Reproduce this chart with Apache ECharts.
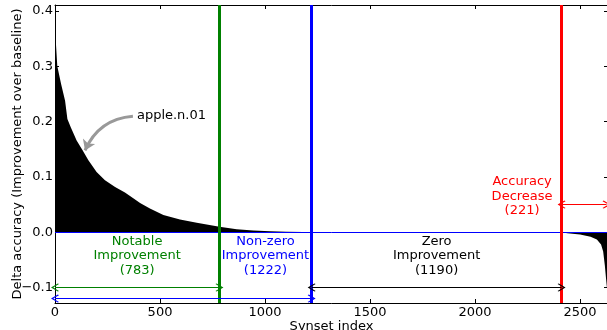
<!DOCTYPE html>
<html>
<head>
<meta charset="utf-8">
<script src="https://cdn.jsdelivr.net/npm/echarts@6/dist/echarts.min.js"></script>
<style>html,body{margin:0;padding:0;background:#fff}#graph{width:607px;height:330px}</style>
</head>
<body>
<div id="graph"></div>
<script>
"use strict"

// outline of the sorted per-synset delta accuracy
const synsetIdx = [0, 3, 11, 29, 48, 59, 75, 103, 132, 159, 198, 238, 286, 333, 371, 405, 452, 516, 595, 675, 783, 865, 944, 1024, 1100, 1181, 1222,
    1223, 2412, 2440, 2500, 2550, 2580, 2600, 2610, 2618, 2624, 2629, 2633];
const deltaAcc = [0.38, 0.35, 0.30, 0.268, 0.238, 0.205, 0.19, 0.166, 0.148, 0.13, 0.109, 0.094, 0.082, 0.072, 0.062, 0.053, 0.043, 0.031, 0.023, 0.017, 0.010, 0.0055, 0.003, 0.0018, 0.001, 0.0005, 0.0003,
    0, 0, -0.002, -0.004, -0.008, -0.013, -0.022, -0.035, -0.06, -0.085, -0.105, -0.12];

const xTicks = [0, 500, 1000, 1500, 2000, 2500];
const yTicks = [-0.1, 0, 0.1, 0.2, 0.3, 0.4];

// group boundaries (vertical lines)
const bounds = [783, 1222, 2412];
const boundColors = ["#008000", "#0000ff", "#ff0000"];

// group captions
const groupNames = ["Notable\nImprovement\n(783)", "Non-zero\nImprovement\n(1222)", "Zero\nImprovement\n(1190)", "Accuracy\nDecrease\n(221)"];
const groupX = [391, 1002, 1817, 2224];
const groupY = [-0.043, -0.043, -0.043, 0.065];
const groupColors = ["#008000", "#0000ff", "#000000", "#ff0000"];

// double headed arrows
const arrowFrom = [0, 0, 1222, 2412];
const arrowTo = [783, 1222, 2412, 2626];
const arrowY = [-0.1, -0.12, -0.1, 0.05];
const arrowColors = ["#008000", "#0000ff", "#000000", "#ff0000"];

// apple.n.01 annotation
const noteText = "apple.n.01";
const notePos = [390, 0.2116];
const noteArrow = [[371, 0.2098], [143, 0.148]];

const font = "DejaVu Sans";
const chevron = "path://M0,0L10,9L8.5,10.5L0,3L-8.5,10.5L-10,9Z";

const frameX = (pos, labels) => ({
    type: "value", position: pos, min: 0, max: 2633,
    axisLine: { show: true, onZero: false, lineStyle: { color: "#000", width: 1 } },
    axisTick: { show: true, inside: true, length: 4, customValues: xTicks, lineStyle: { color: "#000" } },
    axisLabel: { show: labels, customValues: xTicks, margin: 3, color: "#000", fontFamily: font, fontSize: 13, formatter: v => String(v) },
    splitLine: { show: false }
});
const frameY = (pos, labels) => ({
    type: "value", position: pos, min: -0.128, max: 0.411,
    axisLine: { show: true, onZero: false, lineStyle: { color: "#000", width: 1 } },
    axisTick: { show: true, inside: true, length: 4, customValues: yTicks, lineStyle: { color: "#000" } },
    axisLabel: {
        show: labels, customValues: yTicks, margin: 2, color: "#000", fontFamily: font, fontSize: 13,
        formatter: v => (v < -1e-9 ? "\u2212" : "") + Math.abs(v).toFixed(1)
    },
    splitLine: { show: false }
});

const xBottom = frameX("bottom", true);
xBottom.name = "Synset index";
xBottom.nameLocation = "middle";
xBottom.nameGap = 17;
xBottom.nameMoveOverlap = false;
xBottom.nameTextStyle = { color: "#000", fontFamily: font, fontSize: 13 };
const yLeft = frameY("left", true);
yLeft.name = "Delta accuracy (Improvement over baseline)";
yLeft.nameLocation = "middle";
yLeft.nameGap = 31;
yLeft.nameMoveOverlap = false;
yLeft.nameTextStyle = { color: "#000", fontFamily: font, fontSize: 13 };

const textOpt = (t, c, align) => ({
    show: true, position: "inside", formatter: t, color: c, opacity: 1,
    textBorderWidth: 0, textBorderColor: "transparent",
    fontFamily: font, fontSize: 13, lineHeight: 14.5, align: align, verticalAlign: "middle"
});

const option = {
    animation: false,
    backgroundColor: "#fff",
    grid: { left: 55, right: -1, top: 5, bottom: 27, containLabel: false, outerBoundsMode: "none" },
    xAxis: [xBottom, frameX("top", false)],
    yAxis: [yLeft, frameY("right", false)],
    series: [
        {
            type: "line", name: "delta",
            data: synsetIdx.map((x, i) => [x, deltaAcc[i]]),
            showSymbol: false, symbol: "none",
            lineStyle: { width: 0, color: "#000" },
            areaStyle: { color: "#000", opacity: 1 },
            z: 1
        },
        {
            type: "line", name: "guides", data: [], z: 3,
            markLine: {
                silent: true, symbol: "none", label: { show: false },
                data: [{ yAxis: 0, lineStyle: { color: "#0000ff", width: 1, type: "solid" } }]
                    .concat(bounds.map((b, i) => ({ xAxis: b, lineStyle: { color: boundColors[i], width: 3, type: "solid" } })))
            }
        },
        {
            type: "line", name: "arrows", data: [], z: 4,
            markLine: {
                silent: true, symbol: [chevron, chevron], symbolSize: [8, 8], label: { show: false },
                data: arrowFrom.map((a, i) => [
                    { coord: [a, arrowY[i]], lineStyle: { color: arrowColors[i], width: 1, type: "solid" }, itemStyle: { color: arrowColors[i] } },
                    { coord: [arrowTo[i], arrowY[i]] }
                ])
            }
        },
        {
            type: "scatter", name: "captions", symbolSize: 0, z: 5,
            itemStyle: { opacity: 1 },
            data: groupNames.map((t, i) => ({
                value: [groupX[i], groupY[i]],
                label: textOpt(t, groupColors[i], "center")
            })).concat([{
                value: notePos,
                label: textOpt(noteText, "#000", "left")
            }])
        },
        {
            type: "lines", name: "pointer", coordinateSystem: "cartesian2d", z: 5,
            symbol: ["none", "arrow"], symbolSize: 10,
            lineStyle: { color: "#999", width: 3, curveness: -0.3, opacity: 1 },
            data: [{ coords: noteArrow }]
        }
    ]
};

const myChart = echarts.init(document.getElementById("graph"), null, { renderer: "canvas" });
myChart.setOption(option);
</script>
</body>
</html>
